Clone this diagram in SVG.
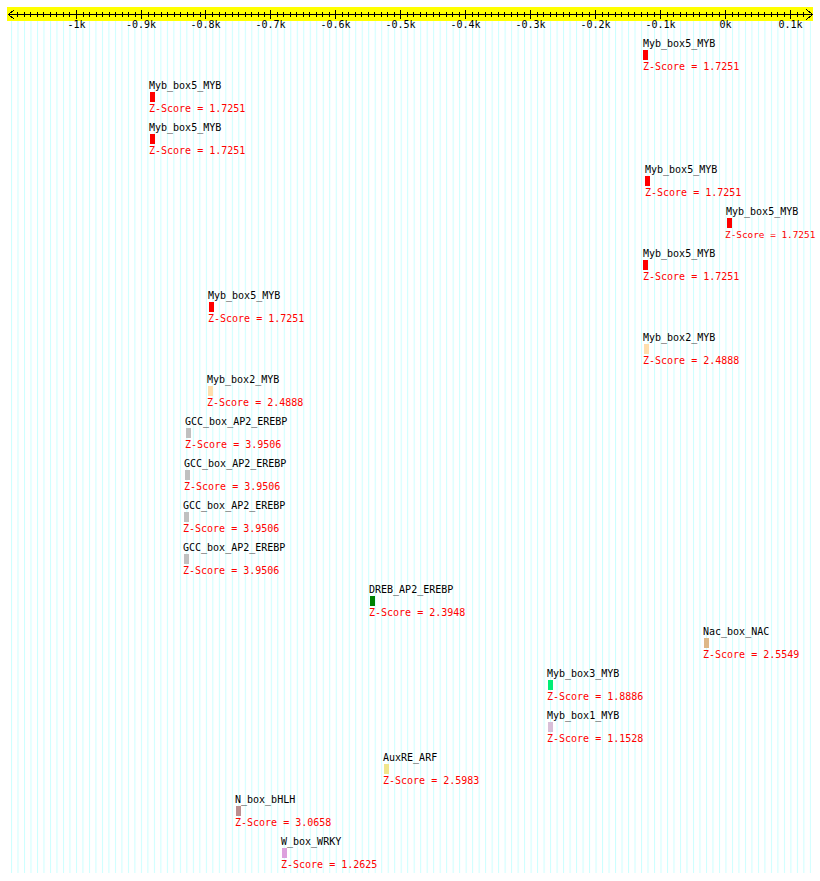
<svg xmlns="http://www.w3.org/2000/svg" width="820" height="881" viewBox="0 0 820 881">
<defs>
<style>
.bg{fill:#ffffff}
.band{fill:#ffff00}
.axis{stroke:#000;stroke-width:1;fill:none;shape-rendering:crispEdges}
.tk{font-family:"DejaVu Sans Mono","Liberation Mono",monospace;font-size:10px;fill:#000;text-anchor:middle}
.lbl{font-family:"DejaVu Sans Mono","Liberation Mono",monospace;font-size:10px;fill:#000}
.z{font-family:"DejaVu Sans Mono","Liberation Mono",monospace;font-size:10px;fill:#ff0000}
.m{shape-rendering:crispEdges}
</style>
<pattern id="gp" x="11" y="0" width="6.495" height="10" patternUnits="userSpaceOnUse">
<rect x="0" y="0" width="1" height="10" fill="#ccffff"/>
</pattern>
</defs>
<rect class="bg" x="0" y="0" width="820" height="881"/>
<rect x="11" y="21" width="800" height="852" fill="url(#gp)"/>
<g id="ruler">
<rect class="band" x="7" y="7" width="806" height="14"/>
<path class="axis" d="M8.5 14.5H812.5M8.5 14.5L14.5 9.5M8.5 14.5L14.5 19.5M812.5 14.5L806.5 9.5M812.5 14.5L806.5 19.5"/>
<g id="majors" class="axis">
<line x1="76.5" y1="10" x2="76.5" y2="19"/>
<line x1="141.5" y1="10" x2="141.5" y2="19"/>
<line x1="205.5" y1="10" x2="205.5" y2="19"/>
<line x1="270.5" y1="10" x2="270.5" y2="19"/>
<line x1="335.5" y1="10" x2="335.5" y2="19"/>
<line x1="400.5" y1="10" x2="400.5" y2="19"/>
<line x1="465.5" y1="10" x2="465.5" y2="19"/>
<line x1="530.5" y1="10" x2="530.5" y2="19"/>
<line x1="595.5" y1="10" x2="595.5" y2="19"/>
<line x1="660.5" y1="10" x2="660.5" y2="19"/>
<line x1="725.5" y1="10" x2="725.5" y2="19"/>
<line x1="790.5" y1="10" x2="790.5" y2="19"/>
</g>
<g id="minors" class="axis">
<path d="M17.5 12V17M24 12V17M30.5 12V17M37 12V17M43.5 12V17M50 12V17M56.5 12V17M63 12V17M69.5 12V17
M83 12V17M89.5 12V17M96 12V17M102.5 12V17M109 12V17M115.5 12V17M122 12V17M128.5 12V17M135 12V17
M148 12V17M154.5 12V17M161 12V17M167.5 12V17M174 12V17M180.5 12V17M187 12V17M193.5 12V17M200 12V17
M212.5 12V17M219 12V17M225.5 12V17M232 12V17M238.5 12V17M245 12V17M251.5 12V17M258 12V17M264.5 12V17
M277 12V17M283.5 12V17M290 12V17M296.5 12V17M303 12V17M309.5 12V17M316 12V17M322.5 12V17M329 12V17
M342 12V17M348.5 12V17M355 12V17M361.5 12V17M368 12V17M374.5 12V17M381 12V17M387.5 12V17M394 12V17
M407 12V17M413.5 12V17M420 12V17M426.5 12V17M433 12V17M439.5 12V17M446 12V17M452.5 12V17M459 12V17
M472 12V17M478.5 12V17M485 12V17M491.5 12V17M498 12V17M504.5 12V17M511 12V17M517.5 12V17M524 12V17
M537 12V17M543.5 12V17M550 12V17M556.5 12V17M563 12V17M569.5 12V17M576 12V17M582.5 12V17M589 12V17
M602 12V17M608.5 12V17M615 12V17M621.5 12V17M628 12V17M634.5 12V17M641 12V17M647.5 12V17M654 12V17
M667 12V17M673.5 12V17M680 12V17M686.5 12V17M693 12V17M699.5 12V17M706 12V17M712.5 12V17M719 12V17
M732 12V17M738.5 12V17M745 12V17M751.5 12V17M758 12V17M764.5 12V17M771 12V17M777.5 12V17M784 12V17
M797 12V17M803.5 12V17"/>
</g>
<text class="tk" x="76.5" y="28">-1k</text>
<text class="tk" x="141" y="28">-0.9k</text>
<text class="tk" x="205.5" y="28">-0.8k</text>
<text class="tk" x="270.5" y="28">-0.7k</text>
<text class="tk" x="335.5" y="28">-0.6k</text>
<text class="tk" x="400.5" y="28">-0.5k</text>
<text class="tk" x="465.5" y="28">-0.4k</text>
<text class="tk" x="530.5" y="28">-0.3k</text>
<text class="tk" x="595.5" y="28">-0.2k</text>
<text class="tk" x="660.5" y="28">-0.1k</text>
<text class="tk" x="725.5" y="28">0k</text>
<text class="tk" x="790.5" y="28">0.1k</text>
</g>
<g id="connectors"></g>
<g id="n0"><text class="lbl" x="643" y="47">Myb_box5_MYB</text><rect class="m" x="643" y="49.5" width="5" height="10" fill="#ff0000"/><text class="z" x="643" y="69.5">Z-Score = 1.7251</text></g>
<g id="n1"><text class="lbl" x="149" y="89">Myb_box5_MYB</text><rect class="m" x="150" y="91.5" width="5" height="10" fill="#ff0000"/><text class="z" x="149" y="111.5">Z-Score = 1.7251</text></g>
<g id="n2"><text class="lbl" x="149" y="131">Myb_box5_MYB</text><rect class="m" x="150" y="133.5" width="5" height="10" fill="#ff0000"/><text class="z" x="149" y="153.5">Z-Score = 1.7251</text></g>
<g id="n3"><text class="lbl" x="645" y="173">Myb_box5_MYB</text><rect class="m" x="645" y="175.5" width="5" height="10" fill="#ff0000"/><text class="z" x="645" y="195.5">Z-Score = 1.7251</text></g>
<g id="n4"><text class="lbl" x="726" y="215">Myb_box5_MYB</text><rect class="m" x="727" y="217.5" width="5" height="10" fill="#ff0000"/><text class="z" x="725" y="237.5" style="font-size:9.4px">Z-Score = 1.7251</text></g>
<g id="n5"><text class="lbl" x="643" y="257">Myb_box5_MYB</text><rect class="m" x="643" y="259.5" width="5" height="10" fill="#ff0000"/><text class="z" x="643" y="279.5">Z-Score = 1.7251</text></g>
<g id="n6"><text class="lbl" x="208" y="299">Myb_box5_MYB</text><rect class="m" x="209" y="301.5" width="5" height="10" fill="#ff0000"/><text class="z" x="208" y="321.5">Z-Score = 1.7251</text></g>
<g id="n7"><text class="lbl" x="643" y="341">Myb_box2_MYB</text><rect class="m" x="644" y="343.5" width="5" height="10" fill="#ffdead"/><text class="z" x="643" y="363.5">Z-Score = 2.4888</text></g>
<g id="n8"><text class="lbl" x="207" y="383">Myb_box2_MYB</text><rect class="m" x="208" y="385.5" width="5" height="10" fill="#ffdead"/><text class="z" x="207" y="405.5">Z-Score = 2.4888</text></g>
<g id="n9"><text class="lbl" x="185" y="425">GCC_box_AP2_EREBP</text><rect class="m" x="186" y="427.5" width="5" height="10" fill="#c0c0c0"/><text class="z" x="185" y="447.5">Z-Score = 3.9506</text></g>
<g id="n10"><text class="lbl" x="184" y="467">GCC_box_AP2_EREBP</text><rect class="m" x="185" y="469.5" width="5" height="10" fill="#c0c0c0"/><text class="z" x="184" y="489.5">Z-Score = 3.9506</text></g>
<g id="n11"><text class="lbl" x="183" y="509">GCC_box_AP2_EREBP</text><rect class="m" x="184" y="511.5" width="5" height="10" fill="#c0c0c0"/><text class="z" x="183" y="531.5">Z-Score = 3.9506</text></g>
<g id="n12"><text class="lbl" x="183" y="551">GCC_box_AP2_EREBP</text><rect class="m" x="184" y="553.5" width="5" height="10" fill="#c0c0c0"/><text class="z" x="183" y="573.5">Z-Score = 3.9506</text></g>
<g id="n13"><text class="lbl" x="369" y="593">DREB_AP2_EREBP</text><rect class="m" x="370" y="595.5" width="5" height="10" fill="#008000"/><text class="z" x="369" y="615.5">Z-Score = 2.3948</text></g>
<g id="n14"><text class="lbl" x="703" y="635">Nac_box_NAC</text><rect class="m" x="704" y="637.5" width="5" height="10" fill="#deb887"/><text class="z" x="703" y="657.5">Z-Score = 2.5549</text></g>
<g id="n15"><text class="lbl" x="547" y="677">Myb_box3_MYB</text><rect class="m" x="548" y="679.5" width="5" height="10" fill="#00ee76"/><text class="z" x="547" y="699.5">Z-Score = 1.8886</text></g>
<g id="n16"><text class="lbl" x="547" y="719">Myb_box1_MYB</text><rect class="m" x="548" y="721.5" width="5" height="10" fill="#d8bfd8"/><text class="z" x="547" y="741.5">Z-Score = 1.1528</text></g>
<g id="n17"><text class="lbl" x="383" y="761">AuxRE_ARF</text><rect class="m" x="384" y="763.5" width="5" height="10" fill="#f0e68c"/><text class="z" x="383" y="783.5">Z-Score = 2.5983</text></g>
<g id="n18"><text class="lbl" x="235" y="803">N_box_bHLH</text><rect class="m" x="236" y="805.5" width="5" height="10" fill="#bc8f8f"/><text class="z" x="235" y="825.5">Z-Score = 3.0658</text></g>
<g id="n19"><text class="lbl" x="281" y="845">W_box_WRKY</text><rect class="m" x="282" y="847.5" width="5" height="10" fill="#dda0dd"/><text class="z" x="281" y="867.5">Z-Score = 1.2625</text></g>
</svg>
